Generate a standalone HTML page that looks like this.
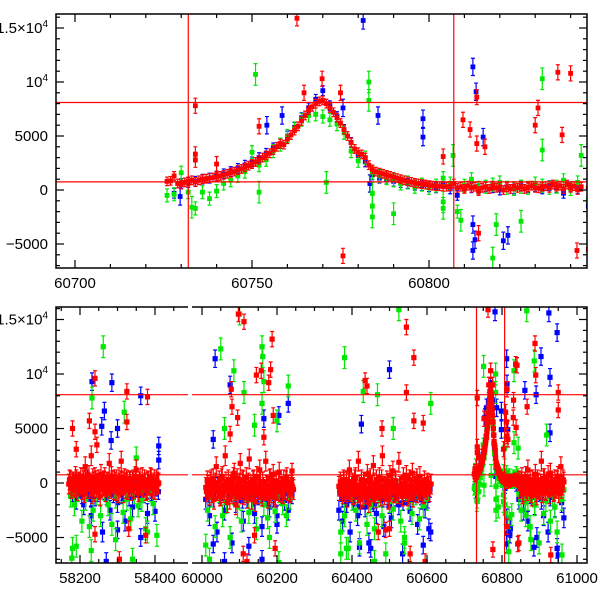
<!DOCTYPE html>
<html><head><meta charset="utf-8"><style>
html,body{margin:0;padding:0;background:#fff;width:600px;height:600px;overflow:hidden}
svg{display:block}
text{font-family:"Liberation Sans",sans-serif;font-size:15px;fill:#000}
</style></head><body>
<svg id="chart" width="600" height="600" xmlns="http://www.w3.org/2000/svg">
<defs>
<clipPath id="cTop"><rect x="56" y="14" width="531" height="254"/></clipPath>
<clipPath id="cB1"><rect x="56" y="307" width="132" height="256"/></clipPath>
<clipPath id="cB2"><rect x="192" y="307" width="395" height="256"/></clipPath>
</defs>
</svg>
<script>
// ---- data ----
const redMainStart = 60726;
const redMainFlux = [800,850,1300,600,500,700,800,900,750,900,
1000,1050,1100,1150,1200,1300,1400,1500,1600,1700,
1850,1950,2100,2250,2400,2600,2800,3000,3200,3400,
3700,4000,4300,4200,4700,5100,5500,5900,6400,6900,
7400,7700,8000,8200,8300,8000,7600,7200,6700,6200,
5600,5000,4400,3800,3500,3300,3000,2300,1900,1700,
1600,1500,1400,1300,1200,1100,1000,900,800,750,
650,600,550,500,450,400,380,350,300,300,
350,600,200,300,100,400,200,300,-100,200,
300,100,400,200,300,0,250,100,350,200,
300,100,250,400,200,150,300,350,200,500,
300,400,100,500,200,350,0,300];
const blueMainStart = 60728;
const blueMainFlux = [-300,600,700,800,1000,1100,1300,1500,1700,2000,
2300,2600,3000,3400,3900,4300,5000,5800,6700,7600,
8400,9200,7800,6800,5600,4400,3200,2600,1400,1100,
1000,800,700,600,450,400,300,200,600,100,
-500,300,200,100,300,200,0,300,100,400,
200,300,100,400,200,-300,300,100];
const greenMainStart = 60726;
const greenMainFlux = [-500,-400,1600,-200,-1700,-200,-800,-100,600,900,
1300,1700,3500,2300,2800,3600,4200,5000,5700,6500,
6900,7000,6800,6500,6100,5300,3600,2700,3000,1600,
1300,1100,900,600,700,300,500,200,400,1100,
600,-2000,400,1000,200,300,500,700,200,100,
300,200,600,400,200,300,900,100,700];

// seasonal noise (start, cadence in days, flux)
const redS1 = [58170,4,[-100,200,-300,100,-400,300,-200,0,500,-600,200,1500,-300,100,-500,2500,400,-800,200,-100,300,-1200,100,-200,500,-400,0,1800,-300,200,-600,100,300,-900,0,2000,-200,400,-500,100,-300,200,-700,300,-100,1200,-400,100,-200,500,-300,0,-600,200,-100,400,-500,300,-200,100,0]];
const redS1b = [58172,4,[300,-500,0,-200,600,-700,100,-300,-100,400,-900,300,-500,700,-200,-1000,100,500,-400,0,-600,800,-300,200,-800,100,-200,-500,600,-100,300,-700,-200,500,-400,100,-900,0,300,-600,200,-300,100,-500,600,-200,-800,400,-100,-400,300,-700,100,-200,500,-300,0,-600,300,-100]];
const blueS1 = [58180,10,[-800,-1500,-400,-2000,300,-3000,-1200,-600,-4500,-800,-2500,-300,-1800,-1000,-3500,-600,-2200,-400,-1500,-900,-2800,-500,-2600]];
const blueS1b = [58175,6,[-200,-600,100,-900,-300,-1200,-500,0,-700,-1500,-400,-200,-1000,-600,300,-800,-1300,-300,-500,-1100,-200,-700,-400,-900,-100,-600,-1400,-300,-800,-500,-200,-1000,-600,-300,-700,-400,-900,-200,-500,-800]];
const greenS1 = [58175,10,[-1200,-2000,-700,-3500,-1500,-4000,-2500,-1000,-3000,-600,-2000,-3800,-1300,-800,-2700,-1500,-3300,-900,-2100,-1600,-4200,-700,-1900,-4800]];
const redS2 = [60010,4,[-400,200,-600,100,-900,400,-300,1500,-700,200,-1200,600,-400,2500,-800,300,-1500,100,-500,900,-2000,400,-300,1800,-1000,200,-600,500,-1400,2200,-200,-800,300,-1700,600,-400,1200,-900,100,-600,2000,-300,-1100,400,-500,800,-1300,200,-700,1000,-400,-900,300,-600,500,-200,-800,100,-400]];
const redS2b = [60012,4,[-800,-200,-1100,300,-500,-1500,0,-700,-300,-1200,400,-900,-600,100,-1800,-400,-200,-1000,500,-700,-300,-1300,-100,-600,300,-1100,-500,-900,0,-400,-1500,200,-800,-300,-1000,-600,100,-1200,-400,-700,-200,-1400,300,-900,-500,-100,-1100,-600,0,-800,-300,-1000,-500,200,-700,-400,-900,-200,-600]];
const blueS2 = [60010,10,[-1500,-3000,-800,-4500,-1200,-2500,-600,-5500,-1800,-900,-3500,-1400,-700,-2800,-1100,-4000,-600,-2200,-1300,-3000,-800,-1600,-2500,-1000]];
const blueS2b = [60012,6,[-600,-1100,-300,-1500,-800,-200,-1200,-900,-500,-1700,-400,-1000,-700,-1300,-300,-900,-1600,-500,-1100,-800,-200,-1400,-600,-1000,-400,-1200,-700,-1500,-300,-900,-1100,-500,-800,-1300,-600,-1000,-400,-700]];
const greenS2 = [60015,10,[-2500,-1200,-4000,-800,-3000,-1800,-5000,-1000,-2200,-3500,-700,-2700,-1500,-4200,-900,-2000,-3200,-1300,-2600,-800,-1900,-3000,-1400]];
const redS3 = [60365,4,[-300,100,-500,300,-800,200,-400,1200,-600,0,-1000,500,-300,2000,-700,300,-1300,100,-500,800,-1800,400,-200,1600,-900,300,-600,500,-1200,2500,-300,-700,200,-1500,700,-400,1100,-800,200,-600,1900,-300,-1000,500,-500,700,-1200,300,-700,900,-400,-800,400,-600,600,-200,-900,200,-400,0,-300,-100]];
const redS3b = [60367,4,[-700,-200,-1000,100,-500,-1300,0,-800,-300,-1100,300,-600,-900,-200,-1500,-400,100,-1000,-600,200,-1200,-300,-800,0,-1400,-500,-200,-900,300,-700,-1100,-400,-100,-1300,-600,-200,-900,200,-700,-1000,-300,-500,-1200,0,-800,-400,-1000,-200,-600,-1300,-300,100,-900,-500,-700,-200,-1000,-400,-600,-300,-800,-100]];
const blueS3 = [60365,10,[-2500,-3500,-1800,-4500,-1200,-3000,-800,-2200,-5500,-1500,-2800,-700,-4000,-1300,-3200,-900,-2000,-6500,-1100,-2600,-700,-3800,-1500,-2300,-4200]];
const blueS3b = [60368,6,[-900,-1500,-600,-2000,-1100,-400,-1700,-800,-1300,-2200,-500,-1000,-1600,-700,-1200,-1900,-400,-1100,-800,-1500,-600,-1300,-2100,-900,-500,-1400,-1000,-700,-1800,-600,-1200,-900,-1500,-500,-1100,-800,-1300,-700,-1000,-1600,-600]];
const greenS3 = [60370,10,[-4500,-3000,-6000,-1500,-2500,-5500,-1000,-3800,-2000,-4200,-1200,-3000,-6500,-1700,-2400,-800,-3500,-5000,-1400,-2800,-1000,-3300,-2100,-1500]];
const redS4 = [60845,4,[200,-300,500,-800,100,-500,1200,-200,-900,300,-400,800,-1100,0,-600,2000,-300,400,-700,100,-400,900,-200,-800,300,-500,600,-300,1500,-200,100]];
const redS4b = [60847,4,[-500,100,-1000,-200,600,-700,-300,200,-1200,-400,100,-800,300,-500,-100,-900,400,-600,-200,700,-1000,-300,100,-700,-400,200,-900,-100,-500,300]];
const blueS4 = [60845,6,[-1500,-800,-2500,-400,-3500,-1000,-600,-2000,-5000,-800,-1500,-3000,-700,-4500,-1200,-600,-2200,-6000,-900,-1800,-3200]];
const greenS4 = [60845,6,[-1000,-2500,-600,-3000,-1500,-4000,-800,-2000,-1200,-5500,-700,-2800,-1600,-900,-3500,-1100,-2200,-4500,-800,-1500,-600]];

// outliers [time, flux]
const redOut = [[58180,5000],[58190,3100],[58240,9600],[58240,4700],[58245,3500],[58225,5700],[58325,8400],[58325,5600],[58380,7900],[58375,-4800],[58240,-4700],[58305,-7000],[58330,-4200],
[60097,15500],[60112,14800],[60187,13200],[60158,10300],[60145,9900],[60183,10400],[60078,8600],[60095,6000],[60178,9200],[60190,6200],[60080,7000],[60165,4200],[60110,-6500],[60120,-7200],[60140,-4800],[60195,-6000],[60240,1100],[60075,4500],
[60435,9400],[60440,8900],[60545,14300],[60565,11500],[60545,8300],[60470,-4500],[60500,-4200],[60490,-4300],[60555,-6500],[60595,-7200],[60480,5000],[60565,5700],[60590,5500],
[60734,7800],[60734,3300],[60734,2800],[60740,2400],[60752,5900],[60809.6,6500],[60811.6,5600],[60813.5,8600],[60813.5,4300],[60815.8,4000],[60836.4,10900],[60830.8,7600],[60830,6000],[60837.6,5100],[60841.8,-5600],[60814,-4000],[60775.7,-6100],[60775,9000],[60764.7,9000],[60769.8,10300],[60804,3100],[60762.7,15900],
[60840,10800],[60867,7000],[60888,12800],[60890,9900],[60845,-5500],[60930,-6600],[60950,8300],[60950,6700]];
const blueOut = [[58232,9300],[58265,6600],[58258,5200],[58285,9200],[58300,5000],[58362,8000],[58283,3900],[58270,-7200],[58410,2100],[58410,3400],[58300,-4300],[58362,-5000],
[60035,11400],[60030,4000],[60075,9000],[60165,5900],[60205,6200],[60230,7300],[60125,-5800],[60160,-7000],[60030,-5600],[60060,-7200],[60200,-3800],
[60425,5400],[60500,10400],[60590,-5700],[60610,-4500],[60420,-5900],[60450,-6000],
[60781.4,15700],[60812.4,11400],[60813.3,9100],[60798.3,6600],[60798.3,4900],[60815.3,4900],[60812.4,-3200],[60812.4,-5600],[60813,-4600],[60822.3,-4200],[60785.6,6900],[60775.7,7600],[60729.7,-600],[60754.2,6000],[60758.5,6900],[60783.3,600],
[60861,8500],[60891,8100],[60904,11600],[60928,9700],[60925,15600],[60947,13800],[60821,-4700],[60885,-5900],[60950,-6600],[60928,4600]];
const greenOut = [[58262,12500],[58232,7800],[58318,6500],[58180,-6000],[58190,-5800],[58178,-6900],[58230,-6200],[58350,2300],[58380,-4500],[58340,-7000],[58295,-5200],
[60050,12300],[60085,10300],[60100,15500],[60112,8300],[60160,12500],[60162,11600],[60165,9300],[60160,7300],[60200,5700],[60230,8900],[60060,5000],[60140,5300],[60010,-5700],[60020,-7000],[60180,-5000],[60205,-7300],
[60380,11500],[60430,8400],[60468,8100],[60510,5000],[60610,7300],[60370,-6500],[60385,-6000],[60525,15900],[60540,-5500],[60460,-7200],
[60751,10700],[60752,-200],[60783,10000],[60783,8300],[60784,-300],[60784,-1500],[60784,-2500],[60771,700],[60804,-1100],[60804,-1700],[60806.8,3200],[60809,-2800],[60818,-6300],[60826,-2900],[60832,10300],[60832,3700],[60843,3200],[60819,-3200],
[60866,15800],[60886,11200],[60790,-2200],[60861,-1700],[60877,-5200],[60919,4400],[60960,-6600],[60733,-1600]];

const refFlux = [8100, 750];
const refTime = [60732, 60807];
const topXTicks = [60700, 60750, 60800];
const botXTicks1 = [58200, 58400];
const botXTicks2 = [60000, 60200, 60400, 60600, 60800, 61000];
const yTicks = [-5000, 0, 5000, 10000, 15000];
const yLabels = ["\u22125000", "0", "5000", "10^4", "1.5\u00d710^4"];

// ---- axes ----
const NS = "http://www.w3.org/2000/svg";
const svg = document.getElementById('chart');
const topX = t => 75 + (t - 60700) * 3.54;
const topY = v => 190 - v * 0.0108;
const b1X = t => 80 + (t - 58200) * 0.375;
const b2X = t => 202 + (t - 60000) * 0.375;
const botY = v => 483 - v * 0.0109;

function mk(tag, attrs, parent) {
  const e = document.createElementNS(NS, tag);
  for (const k in attrs) e.setAttribute(k, attrs[k]);
  (parent || svg).appendChild(e);
  return e;
}
function expand(s, err) { return s[2].map((v, i) => [s[0] + i * s[1], v, err]); }
function mainSeries(start, arr, step, err) { return arr.map((v, i) => [start + i * step, v, err]); }
function outs(arr, err) { return arr.map(p => [p[0], p[1], err]); }

const series = [
  {color: '#0000ff', name: 'blue', pts: [].concat(mainSeries(blueMainStart, blueMainFlux, 2, 450), expand(blueS1, 900), expand(blueS1b, 700), expand(blueS2, 900), expand(blueS2b, 700), expand(blueS3, 900), expand(blueS3b, 700), expand(blueS4, 900), outs(blueOut, 800))},
  {color: '#00e800', name: 'green', pts: [].concat(mainSeries(greenMainStart, greenMainFlux, 2, 600), expand(greenS1, 1000), expand(greenS2, 1000), expand(greenS3, 1000), expand(greenS4, 1000), outs(greenOut, 1000))},
  {color: '#ff0000', name: 'red', pts: [].concat(mainSeries(redMainStart, redMainFlux, 1, 400), expand(redS1, 900), expand(redS1b, 900), expand(redS2, 900), expand(redS2b, 900), expand(redS3, 900), expand(redS3b, 900), expand(redS4, 900), expand(redS4b, 900), outs(redOut, 700))}
];

function drawPanel(g, xf, yf, tmin, tmax, panel, big) {
  series.forEach(s => {
    const sg = mk('g', {fill: s.color, stroke: s.color, 'stroke-width': 1.2}, g);
    
    
    s.pts.forEach(p => {
      if (p[0] < tmin || p[0] > tmax) return;
      const x = xf(p[0]), y = yf(p[1]);
      const e = big ? p[2] : p[2];
      const y1 = yf(p[1] + e), y2 = yf(p[1] - e);
      const bar = mk('path', {d: `M${x},${y1}V${y2}M${x-2},${y1}h4M${x-2},${y2}h4`, fill: 'none'}, sg);
      
      
      const r = big ? 2.6 : 2.4;
      const pt = mk('rect', {x: x - r, y: y - r, width: 2 * r, height: 2 * r, stroke: 'none'}, sg);
      
      
    });
  });
}

function refLines(g, x0, x1, y0, y1, xf, yf) {
  refFlux.forEach(v => {
    const l = mk('line', {x1: x0, x2: x1, y1: yf(v), y2: yf(v), stroke: '#ff0000', 'stroke-width': 1.2}, g);
    
    
  });
  refTime.forEach(t => {
    const l = mk('line', {x1: xf(t), x2: xf(t), y1: y0, y2: y1, stroke: '#ff0000', 'stroke-width': 1.2}, g);
    
    
  });
}

function yAxis(yf, top, bot, panel) {
  const g = mk('g', {stroke: '#000', 'stroke-width': 1.2});
  
  
  for (let v = -7000; v <= 16000; v += 1000) {
    const y = yf(v);
    if (y < top || y > bot) continue;
    const major = v % 5000 === 0;
    const L = major ? 8 : 4;
    mk('line', {x1: 56, x2: 56 + L, y1: y, y2: y}, g);
    mk('line', {x1: 587, x2: 587 - L, y1: y, y2: y}, g);
  }
  yTicks.forEach((v, i) => {
    const t = mk('text', {x: 48, y: yf(v) + 5, 'text-anchor': 'end'});
    
    
    const lab = yLabels[i];
    if (lab.indexOf('^') >= 0) {
      const parts = lab.split('^');
      t.appendChild(document.createTextNode(parts[0]));
      const sup = mk('tspan', {dy: -6, 'font-size': 10}, t);
      sup.textContent = parts[1];
    } else t.textContent = lab;
  });
}

function xTicks(xf, tmin, tmax, minor, ticks, top, bot, panel) {
  const g = mk('g', {stroke: '#000', 'stroke-width': 1.2});
  
  
  for (let t = Math.ceil(tmin / minor) * minor; t <= tmax; t += minor) {
    const major = ticks.includes(t) || (t % 200 === 0 && minor === 50) || (t % 50 === 0 && minor === 10);
    const L = major ? 8 : 4;
    const x = xf(t);
    mk('line', {x1: x, x2: x, y1: bot, y2: bot - L}, g);
    mk('line', {x1: x, x2: x, y1: top, y2: top + L}, g);
  }
  ticks.forEach(t => {
    const tx = mk('text', {x: xf(t), y: bot + 20, 'text-anchor': 'middle'});
    
    
    tx.textContent = t;
  });
}

// top panel
const gTop = mk('g', {'clip-path': 'url(#cTop)'});


drawPanel(gTop, topX, topY, 60690, 60850, 'top', false);
refLines(gTop, 56, 587, 14, 268, topX, topY);
yAxis(topY, 14, 268, 'top');
xTicks(topX, 60695, 60844, 10, topXTicks, 14, 268, 'top');
const fTop = mk('rect', {x: 56, y: 14, width: 531, height: 254, fill: 'none', stroke: '#000', 'stroke-width': 1.5});



// bottom panel segment 1
const gB1 = mk('g', {'clip-path': 'url(#cB1)'});


drawPanel(gB1, b1X, botY, 58100, 58500, 'bottom-left', true);
refLines(gB1, 56, 188, 307, 563, b1X, botY);
// bottom panel segment 2
const gB2 = mk('g', {'clip-path': 'url(#cB2)'});


drawPanel(gB2, b2X, botY, 59950, 61100, 'bottom-right', true);
refLines(gB2, 192, 587, 307, 563, b2X, botY);
yAxis(botY, 307, 563, 'bottom');
xTicks(b1X, 58140, 58485, 50, botXTicks1, 307, 563, 'bottom-left');
xTicks(b2X, 59975, 61025, 50, botXTicks2, 307, 563, 'bottom-right');
const fB = mk('path', {d: 'M188,307H56V563H188M192,307H587V563H192', fill: 'none', stroke: '#000', 'stroke-width': 1.5});


</script>
</body></html>
